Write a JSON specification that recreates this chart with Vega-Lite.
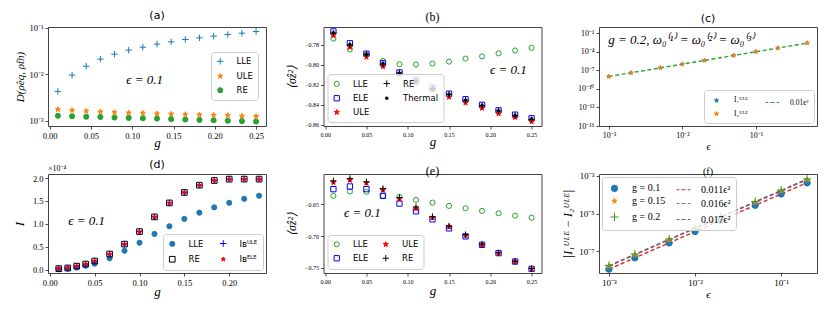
{
"$schema":"https://vega.github.io/schema/vega-lite/v6.json",
"background":"white",
"padding":{"left":12,"top":9,"right":2,"bottom":2},
"config":{
 "view":{"stroke":"#444","strokeWidth":1},
 "axis":{"grid":false,"domain":false,"tickColor":"#222","tickSize":3,"tickWidth":0.8,"tickCount":20,"labelColor":"#000","labelFont":"Liberation Serif","labelFontSize":8.5,"labelPadding":2,"titleFont":"Liberation Serif","titleFontStyle":"italic","titleFontWeight":"normal","titleColor":"#000","titleFontSize":13,"titlePadding":3,"labelFlush":false,"labelOverlap":false,"labelBound":false},
 "title":{"fontWeight":"normal","fontSize":11,"offset":3,"color":"#000","font":"DejaVu Sans","frame":"group"},
 "legend":{"fillColor":"rgba(255,255,255,0.8)","strokeColor":"#cccccc","cornerRadius":3,"padding":5,"symbolStrokeWidth":1,"symbolOpacity":1,"labelColor":"#000"}
},
"datasets":{
 "one":[{}],
 "a":[
  {"x":0.01,"y":0.00425,"s":"LLE"},{"x":0.02714,"y":0.00952,"s":"LLE"},{"x":0.04429,"y":0.0148,"s":"LLE"},{"x":0.06143,"y":0.021,"s":"LLE"},{"x":0.07857,"y":0.0268,"s":"LLE"},{"x":0.09571,"y":0.0327,"s":"LLE"},{"x":0.11286,"y":0.0379,"s":"LLE"},{"x":0.13,"y":0.044,"s":"LLE"},{"x":0.14714,"y":0.0493,"s":"LLE"},{"x":0.16429,"y":0.0553,"s":"LLE"},{"x":0.18143,"y":0.0601,"s":"LLE"},{"x":0.19857,"y":0.0652,"s":"LLE"},{"x":0.21571,"y":0.0708,"s":"LLE"},{"x":0.23286,"y":0.0756,"s":"LLE"},{"x":0.25,"y":0.0821,"s":"LLE"},
  {"x":0.01,"y":0.00175,"s":"ULE"},{"x":0.02714,"y":0.00167,"s":"ULE"},{"x":0.04429,"y":0.00161,"s":"ULE"},{"x":0.06143,"y":0.00156,"s":"ULE"},{"x":0.07857,"y":0.00151,"s":"ULE"},{"x":0.09571,"y":0.00148,"s":"ULE"},{"x":0.11286,"y":0.00146,"s":"ULE"},{"x":0.13,"y":0.00141,"s":"ULE"},{"x":0.14714,"y":0.00139,"s":"ULE"},{"x":0.16429,"y":0.00137,"s":"ULE"},{"x":0.18143,"y":0.00134,"s":"ULE"},{"x":0.19857,"y":0.00132,"s":"ULE"},{"x":0.21571,"y":0.0013,"s":"ULE"},{"x":0.23286,"y":0.00126,"s":"ULE"},{"x":0.25,"y":0.00124,"s":"ULE"},
  {"x":0.01,"y":0.00128,"s":"RE"},{"x":0.02714,"y":0.00125,"s":"RE"},{"x":0.04429,"y":0.00122,"s":"RE"},{"x":0.06143,"y":0.0012,"s":"RE"},{"x":0.07857,"y":0.00117,"s":"RE"},{"x":0.09571,"y":0.00115,"s":"RE"},{"x":0.11286,"y":0.00113,"s":"RE"},{"x":0.13,"y":0.00111,"s":"RE"},{"x":0.14714,"y":0.00108,"s":"RE"},{"x":0.16429,"y":0.00106,"s":"RE"},{"x":0.18143,"y":0.00104,"s":"RE"},{"x":0.19857,"y":0.00102,"s":"RE"},{"x":0.21571,"y":0.001,"s":"RE"},{"x":0.23286,"y":0.00098,"s":"RE"},{"x":0.25,"y":0.00096,"s":"RE"}
 ],
 "b":[
  {"x":0.01,"y":-0.7741,"s":"LLE"},{"x":0.03,"y":-0.7849,"s":"LLE"},{"x":0.05,"y":-0.7898,"s":"LLE"},{"x":0.07,"y":-0.7963,"s":"LLE"},{"x":0.09,"y":-0.7996,"s":"LLE"},{"x":0.11,"y":-0.7999,"s":"LLE"},{"x":0.13,"y":-0.7989,"s":"LLE"},{"x":0.15,"y":-0.797,"s":"LLE"},{"x":0.17,"y":-0.794,"s":"LLE"},{"x":0.19,"y":-0.7918,"s":"LLE"},{"x":0.21,"y":-0.7888,"s":"LLE"},{"x":0.23,"y":-0.7859,"s":"LLE"},{"x":0.25,"y":-0.7833,"s":"LLE"},
  {"x":0.01,"y":-0.7669,"s":"ELE"},{"x":0.03,"y":-0.7787,"s":"ELE"},{"x":0.05,"y":-0.7891,"s":"ELE"},{"x":0.07,"y":-0.7986,"s":"ELE"},{"x":0.09,"y":-0.8078,"s":"ELE"},{"x":0.11,"y":-0.8156,"s":"ELE"},{"x":0.13,"y":-0.8231,"s":"ELE"},{"x":0.15,"y":-0.829,"s":"ELE"},{"x":0.17,"y":-0.8345,"s":"ELE"},{"x":0.19,"y":-0.8401,"s":"ELE"},{"x":0.21,"y":-0.8456,"s":"ELE"},{"x":0.23,"y":-0.8499,"s":"ELE"},{"x":0.25,"y":-0.8535,"s":"ELE"},
  {"x":0.01,"y":-0.7709,"s":"ULE"},{"x":0.03,"y":-0.7826,"s":"ULE"},{"x":0.05,"y":-0.7924,"s":"ULE"},{"x":0.07,"y":-0.8019,"s":"ULE"},{"x":0.09,"y":-0.81,"s":"ULE"},{"x":0.11,"y":-0.8182,"s":"ULE"},{"x":0.13,"y":-0.8251,"s":"ULE"},{"x":0.15,"y":-0.8322,"s":"ULE"},{"x":0.17,"y":-0.8381,"s":"ULE"},{"x":0.19,"y":-0.8433,"s":"ULE"},{"x":0.21,"y":-0.8489,"s":"ULE"},{"x":0.23,"y":-0.8525,"s":"ULE"},{"x":0.25,"y":-0.8567,"s":"ULE"},
  {"x":0.01,"y":-0.7686,"s":"RE"},{"x":0.03,"y":-0.7803,"s":"RE"},{"x":0.05,"y":-0.7901,"s":"RE"},{"x":0.07,"y":-0.7996,"s":"RE"},{"x":0.09,"y":-0.8084,"s":"RE"},{"x":0.11,"y":-0.8162,"s":"RE"},{"x":0.13,"y":-0.8238,"s":"RE"},{"x":0.15,"y":-0.8296,"s":"RE"},{"x":0.17,"y":-0.8355,"s":"RE"},{"x":0.19,"y":-0.8411,"s":"RE"},{"x":0.21,"y":-0.8463,"s":"RE"},{"x":0.23,"y":-0.8509,"s":"RE"},{"x":0.25,"y":-0.8548,"s":"RE"},
  {"x":0.01,"y":-0.7682,"s":"Thermal"},{"x":0.03,"y":-0.78,"s":"Thermal"},{"x":0.05,"y":-0.7898,"s":"Thermal"},{"x":0.07,"y":-0.7993,"s":"Thermal"},{"x":0.09,"y":-0.8084,"s":"Thermal"},{"x":0.11,"y":-0.8162,"s":"Thermal"},{"x":0.13,"y":-0.8238,"s":"Thermal"},{"x":0.15,"y":-0.8296,"s":"Thermal"},{"x":0.17,"y":-0.8355,"s":"Thermal"},{"x":0.19,"y":-0.8407,"s":"Thermal"},{"x":0.21,"y":-0.846,"s":"Thermal"},{"x":0.23,"y":-0.8505,"s":"Thermal"},{"x":0.25,"y":-0.8541,"s":"Thermal"}
 ],
 "c":[
  {"x":0.001,"y":1e-8,"s":"I1"},{"x":0.002,"y":4e-8,"s":"I1"},{"x":0.005,"y":2.5e-7,"s":"I1"},{"x":0.01,"y":1e-6,"s":"I1"},{"x":0.02,"y":4e-6,"s":"I1"},{"x":0.05,"y":2.5e-5,"s":"I1"},{"x":0.1,"y":1e-4,"s":"I1"},{"x":0.2,"y":4e-4,"s":"I1"},{"x":0.5,"y":2.6e-3,"s":"I1"},
  {"x":0.001,"y":1e-8,"s":"I2"},{"x":0.002,"y":4e-8,"s":"I2"},{"x":0.005,"y":2.5e-7,"s":"I2"},{"x":0.01,"y":1e-6,"s":"I2"},{"x":0.02,"y":4e-6,"s":"I2"},{"x":0.05,"y":2.5e-5,"s":"I2"},{"x":0.1,"y":1e-4,"s":"I2"},{"x":0.2,"y":4e-4,"s":"I2"},{"x":0.5,"y":2.6e-3,"s":"I2"}
 ],
 "cl":[
  {"x":0.001,"y":1e-8,"s":"L"},{"x":0.002,"y":4e-8,"s":"L"},{"x":0.005,"y":2.5e-7,"s":"L"},{"x":0.01,"y":1e-6,"s":"L"},{"x":0.02,"y":4e-6,"s":"L"},{"x":0.05,"y":2.5e-5,"s":"L"},{"x":0.1,"y":1e-4,"s":"L"},{"x":0.2,"y":4e-4,"s":"L"},{"x":0.5,"y":2.5e-3,"s":"L"}
 ],
 "d":[
  {"x":0.01,"y":0.005,"s":"LLE"},{"x":0.02,"y":0.018,"s":"LLE"},{"x":0.03,"y":0.045,"s":"LLE"},{"x":0.04,"y":0.085,"s":"LLE"},{"x":0.05,"y":0.13,"s":"LLE"},{"x":0.0667,"y":0.246,"s":"LLE"},{"x":0.0833,"y":0.413,"s":"LLE"},{"x":0.1,"y":0.587,"s":"LLE"},{"x":0.1167,"y":0.78,"s":"LLE"},{"x":0.1333,"y":0.948,"s":"LLE"},{"x":0.15,"y":1.109,"s":"LLE"},{"x":0.1667,"y":1.245,"s":"LLE"},{"x":0.1833,"y":1.361,"s":"LLE"},{"x":0.2,"y":1.46,"s":"LLE"},{"x":0.2167,"y":1.548,"s":"LLE"},{"x":0.2333,"y":1.615,"s":"LLE"},
  {"x":0.01,"y":0.02,"s":"RE"},{"x":0.02,"y":0.035,"s":"RE"},{"x":0.03,"y":0.075,"s":"RE"},{"x":0.04,"y":0.12,"s":"RE"},{"x":0.05,"y":0.187,"s":"RE"},{"x":0.0667,"y":0.34,"s":"RE"},{"x":0.0833,"y":0.557,"s":"RE"},{"x":0.1,"y":0.83,"s":"RE"},{"x":0.1167,"y":1.152,"s":"RE"},{"x":0.1333,"y":1.457,"s":"RE"},{"x":0.15,"y":1.687,"s":"RE"},{"x":0.1667,"y":1.845,"s":"RE"},{"x":0.1833,"y":1.948,"s":"RE"},{"x":0.2,"y":1.978,"s":"RE"},{"x":0.2167,"y":1.978,"s":"RE"},{"x":0.2333,"y":1.978,"s":"RE"},
  {"x":0.01,"y":0.02,"s":"IBU"},{"x":0.02,"y":0.035,"s":"IBU"},{"x":0.03,"y":0.075,"s":"IBU"},{"x":0.04,"y":0.12,"s":"IBU"},{"x":0.05,"y":0.187,"s":"IBU"},{"x":0.0667,"y":0.34,"s":"IBU"},{"x":0.0833,"y":0.557,"s":"IBU"},{"x":0.1,"y":0.83,"s":"IBU"},{"x":0.1167,"y":1.152,"s":"IBU"},{"x":0.1333,"y":1.457,"s":"IBU"},{"x":0.15,"y":1.687,"s":"IBU"},{"x":0.1667,"y":1.845,"s":"IBU"},{"x":0.1833,"y":1.948,"s":"IBU"},{"x":0.2,"y":1.978,"s":"IBU"},{"x":0.2167,"y":1.978,"s":"IBU"},{"x":0.2333,"y":1.978,"s":"IBU"},
  {"x":0.01,"y":0.02,"s":"IBE"},{"x":0.02,"y":0.035,"s":"IBE"},{"x":0.03,"y":0.075,"s":"IBE"},{"x":0.04,"y":0.12,"s":"IBE"},{"x":0.05,"y":0.187,"s":"IBE"},{"x":0.0667,"y":0.34,"s":"IBE"},{"x":0.0833,"y":0.557,"s":"IBE"},{"x":0.1,"y":0.83,"s":"IBE"},{"x":0.1167,"y":1.152,"s":"IBE"},{"x":0.1333,"y":1.457,"s":"IBE"},{"x":0.15,"y":1.687,"s":"IBE"},{"x":0.1667,"y":1.845,"s":"IBE"},{"x":0.1833,"y":1.948,"s":"IBE"},{"x":0.2,"y":1.978,"s":"IBE"},{"x":0.2167,"y":1.978,"s":"IBE"},{"x":0.2333,"y":1.978,"s":"IBE"}
 ],
 "e":[
  {"x":0.01,"y":-0.6368,"s":"LLE"},{"x":0.03,"y":-0.63,"s":"LLE"},{"x":0.05,"y":-0.6305,"s":"LLE"},{"x":0.07,"y":-0.6368,"s":"LLE"},{"x":0.09,"y":-0.6384,"s":"LLE"},{"x":0.11,"y":-0.6432,"s":"LLE"},{"x":0.13,"y":-0.6474,"s":"LLE"},{"x":0.15,"y":-0.6526,"s":"LLE"},{"x":0.17,"y":-0.6563,"s":"LLE"},{"x":0.19,"y":-0.6605,"s":"LLE"},{"x":0.21,"y":-0.6642,"s":"LLE"},{"x":0.23,"y":-0.6679,"s":"LLE"},{"x":0.25,"y":-0.6711,"s":"LLE"},
  {"x":0.01,"y":-0.6263,"s":"ELE"},{"x":0.03,"y":-0.6221,"s":"ELE"},{"x":0.05,"y":-0.6263,"s":"ELE"},{"x":0.07,"y":-0.6368,"s":"ELE"},{"x":0.09,"y":-0.6489,"s":"ELE"},{"x":0.11,"y":-0.6611,"s":"ELE"},{"x":0.13,"y":-0.6737,"s":"ELE"},{"x":0.15,"y":-0.6879,"s":"ELE"},{"x":0.17,"y":-0.7005,"s":"ELE"},{"x":0.19,"y":-0.7137,"s":"ELE"},{"x":0.21,"y":-0.7268,"s":"ELE"},{"x":0.23,"y":-0.74,"s":"ELE"},{"x":0.25,"y":-0.7516,"s":"ELE"},
  {"x":0.01,"y":-0.6158,"s":"ULE"},{"x":0.03,"y":-0.6121,"s":"ULE"},{"x":0.05,"y":-0.6168,"s":"ULE"},{"x":0.07,"y":-0.6279,"s":"ULE"},{"x":0.09,"y":-0.6421,"s":"ULE"},{"x":0.11,"y":-0.6568,"s":"ULE"},{"x":0.13,"y":-0.6711,"s":"ULE"},{"x":0.15,"y":-0.6853,"s":"ULE"},{"x":0.17,"y":-0.6989,"s":"ULE"},{"x":0.19,"y":-0.7137,"s":"ULE"},{"x":0.21,"y":-0.7268,"s":"ULE"},{"x":0.23,"y":-0.74,"s":"ULE"},{"x":0.25,"y":-0.7516,"s":"ULE"},
  {"x":0.01,"y":-0.6132,"s":"RE"},{"x":0.03,"y":-0.6095,"s":"RE"},{"x":0.05,"y":-0.6147,"s":"RE"},{"x":0.07,"y":-0.6253,"s":"RE"},{"x":0.09,"y":-0.6395,"s":"RE"},{"x":0.11,"y":-0.6542,"s":"RE"},{"x":0.13,"y":-0.6695,"s":"RE"},{"x":0.15,"y":-0.6842,"s":"RE"},{"x":0.17,"y":-0.6979,"s":"RE"},{"x":0.19,"y":-0.7126,"s":"RE"},{"x":0.21,"y":-0.7263,"s":"RE"},{"x":0.23,"y":-0.7394,"s":"RE"},{"x":0.25,"y":-0.751,"s":"RE"}
 ],
 "f":[
  {"x":0.001,"y":1.1e-8,"s":"g = 0.1"},{"x":0.002,"y":4.4e-8,"s":"g = 0.1"},{"x":0.005,"y":2.75e-7,"s":"g = 0.1"},{"x":0.01,"y":1.1e-6,"s":"g = 0.1"},{"x":0.02,"y":4.4e-6,"s":"g = 0.1"},{"x":0.05,"y":2.75e-5,"s":"g = 0.1"},{"x":0.1,"y":1.1e-4,"s":"g = 0.1"},{"x":0.2,"y":4.3e-4,"s":"g = 0.1"},
  {"x":0.001,"y":1.6e-8,"s":"g = 0.15"},{"x":0.002,"y":6.4e-8,"s":"g = 0.15"},{"x":0.005,"y":4e-7,"s":"g = 0.15"},{"x":0.01,"y":1.6e-6,"s":"g = 0.15"},{"x":0.02,"y":6.4e-6,"s":"g = 0.15"},{"x":0.05,"y":4e-5,"s":"g = 0.15"},{"x":0.1,"y":1.6e-4,"s":"g = 0.15"},{"x":0.2,"y":6.3e-4,"s":"g = 0.15"},
  {"x":0.001,"y":1.75e-8,"s":"g = 0.2"},{"x":0.002,"y":7e-8,"s":"g = 0.2"},{"x":0.005,"y":4.4e-7,"s":"g = 0.2"},{"x":0.01,"y":1.75e-6,"s":"g = 0.2"},{"x":0.02,"y":7e-6,"s":"g = 0.2"},{"x":0.05,"y":4.4e-5,"s":"g = 0.2"},{"x":0.1,"y":1.75e-4,"s":"g = 0.2"},{"x":0.2,"y":6.9e-4,"s":"g = 0.2"}
 ],
 "fl":[
  {"x":0.001,"y":1.1e-8,"s":"0.011ϵ²"},{"x":0.2,"y":4.4e-4,"s":"0.011ϵ²"},
  {"x":0.001,"y":1.6e-8,"s":"0.016ϵ²"},{"x":0.2,"y":6.4e-4,"s":"0.016ϵ²"},
  {"x":0.001,"y":1.7e-8,"s":"0.017ϵ²"},{"x":0.2,"y":6.8e-4,"s":"0.017ϵ²"}
 ]
},
"vconcat":[
 {"hconcat":[
  {"width":218,"height":99,"title":{"text":"(a)"},
   "layer":[
    {"data":{"name":"a"},"mark":{"type":"point","opacity":1,"strokeWidth":1},
     "encoding":{
      "x":{"field":"x","type":"quantitative","scale":{"domain":[-0.002,0.262],"nice":false,"zero":false},"axis":{"values":[0,0.05,0.1,0.15,0.2,0.25],"format":".2f","title":"g","titlePadding":-3}},
      "y":{"field":"y","type":"quantitative","scale":{"type":"log","domain":[0.00077,0.1026],"nice":false},"axis":{"values":[0.001,0.01,0.1],"labelExpr":"'10' + replace(replace(replace(replace(replace(replace(replace(replace(replace(replace(toString(round(log(datum.value)/LN10)), '-', '⁻'), regexp('0','g'), '⁰'), regexp('1','g'), '¹'), regexp('2','g'), '²'), regexp('3','g'), '³'), regexp('4','g'), '⁴'), regexp('5','g'), '⁵'), regexp('6','g'), '⁶'), regexp('7','g'), '⁷'), regexp('9','g'), '⁹')","title":"D(ρ̂eq, ρ̂th)","titleFontSize":11}},
      "shape":{"field":"s","type":"nominal","scale":{"domain":["LLE","ULE","RE"],"range":["M-1,0H1M0,-1V1","M0,-1L0.2245,-0.309L0.951,-0.309L0.363,0.118L0.588,0.809L0,0.382L-0.588,0.809L-0.363,0.118L-0.951,-0.309L-0.2245,-0.309Z","circle"]},"legend":{"title":null,"orient":"none","legendX":163,"legendY":25,"labelFont":"DejaVu Sans","labelFontSize":8.5,"labelOffset":12,"rowPadding":4}},
      "stroke":{"field":"s","type":"nominal","scale":{"domain":["LLE","ULE","RE"],"range":["#1f77b4","#ff7f0e","#2ca02c"]},"legend":{"title":null,"orient":"none","legendX":163,"legendY":25,"labelFont":"DejaVu Sans","labelFontSize":8.5,"labelOffset":12,"rowPadding":4}},
      "fill":{"field":"s","type":"nominal","scale":{"domain":["LLE","ULE","RE"],"range":["transparent","#ff7f0e","#2ca02c"]},"legend":{"title":null,"orient":"none","legendX":163,"legendY":25,"labelFont":"DejaVu Sans","labelFontSize":8.5,"labelOffset":12,"rowPadding":4}},
      "size":{"field":"s","type":"nominal","scale":{"type":"ordinal","domain":["LLE","ULE","RE"],"range":[42,28,26]},"legend":{"title":null,"orient":"none","legendX":163,"legendY":25,"labelFont":"DejaVu Sans","labelFontSize":8.5,"labelOffset":12,"rowPadding":4}}
     }},
    {"data":{"name":"one"},"mark":{"type":"text","font":"Liberation Serif","fontSize":13,"fontStyle":"italic"},"encoding":{"x":{"datum":0.115},"y":{"datum":0.0075},"text":{"value":"ϵ = 0.1"}}}
   ]},
  {"width":218,"height":99,"title":{"text":"(b)","font":"Liberation Serif","fontSize":12},
   "layer":[
    {"data":{"name":"b"},"mark":{"type":"point","opacity":1,"strokeWidth":1},
     "encoding":{
      "x":{"field":"x","type":"quantitative","scale":{"domain":[-0.002,0.262],"nice":false,"zero":false},"axis":{"values":[0,0.05,0.1,0.15,0.2,0.25],"format":".2f","title":"g","labelFontSize":6,"titlePadding":-2}},
      "y":{"field":"y","type":"quantitative","scale":{"domain":[-0.8612,-0.7625],"nice":false,"zero":false},"axis":{"values":[-0.86,-0.84,-0.82,-0.8,-0.78],"format":".2f","title":"⟨σ̂z²⟩","titleFontSize":12,"labelFontSize":6,"titlePadding":6}},
      "shape":{"field":"s","type":"nominal","scale":{"domain":["LLE","ELE","ULE","RE","Thermal"],"range":["circle","square","M0,-1L0.2245,-0.309L0.951,-0.309L0.363,0.118L0.588,0.809L0,0.382L-0.588,0.809L-0.363,0.118L-0.951,-0.309L-0.2245,-0.309Z","M-1,0H1M0,-1V1","circle"]},"legend":{"title":null,"orient":"bottom-left","offset":4,"columns":2,"columnPadding":12,"labelFont":"DejaVu Sans","labelFontSize":8.5,"labelOffset":12,"rowPadding":4}},
      "stroke":{"field":"s","type":"nominal","scale":{"domain":["LLE","ELE","ULE","RE","Thermal"],"range":["#2ca02c","#0000ff","#ff0000","#000000","#000000"]},"legend":{"title":null,"orient":"bottom-left","offset":4,"columns":2,"columnPadding":12,"labelFont":"DejaVu Sans","labelFontSize":8.5,"labelOffset":12,"rowPadding":4}},
      "fill":{"field":"s","type":"nominal","scale":{"domain":["LLE","ELE","ULE","RE","Thermal"],"range":["transparent","transparent","#ff0000","transparent","#000000"]},"legend":{"title":null,"orient":"bottom-left","offset":4,"columns":2,"columnPadding":12,"labelFont":"DejaVu Sans","labelFontSize":8.5,"labelOffset":12,"rowPadding":4}},
      "size":{"field":"s","type":"nominal","scale":{"type":"ordinal","domain":["LLE","ELE","ULE","RE","Thermal"],"range":[26,28,30,40,7]},"legend":{"title":null,"orient":"bottom-left","offset":4,"columns":2,"columnPadding":12,"labelFont":"DejaVu Sans","labelFontSize":8.5,"labelOffset":12,"rowPadding":4}}
     }},
    {"data":{"name":"one"},"mark":{"type":"text","font":"Liberation Serif","fontSize":13,"fontStyle":"italic"},"encoding":{"x":{"datum":0.222},"y":{"datum":-0.8055},"text":{"value":"ϵ = 0.1"}}}
   ]},
  {"width":218,"height":99,"title":{"text":"(c)"},
   "layer":[
    {"data":{"name":"cl"},"mark":{"type":"line","strokeDash":[4,2.5],"strokeWidth":1.4},
     "encoding":{
      "x":{"field":"x","type":"quantitative","scale":{"type":"log","domain":[0.000733,0.68],"nice":false},"axis":{"values":[0.001,0.01,0.1],"labelExpr":"'10' + replace(replace(replace(replace(replace(replace(replace(replace(replace(replace(toString(round(log(datum.value)/LN10)), '-', '⁻'), regexp('0','g'), '⁰'), regexp('1','g'), '¹'), regexp('2','g'), '²'), regexp('3','g'), '³'), regexp('4','g'), '⁴'), regexp('5','g'), '⁵'), regexp('6','g'), '⁶'), regexp('7','g'), '⁷'), regexp('9','g'), '⁹')","title":"ϵ","titleFontSize":10,"labelFontSize":8,"titlePadding":2}},
      "y":{"field":"y","type":"quantitative","scale":{"type":"log","domain":[1e-16,1],"nice":false},"axis":{"values":[1e-16,1e-13,1e-10,1e-7,1e-4,0.1],"labelExpr":"'10' + replace(replace(replace(replace(replace(replace(replace(replace(replace(replace(toString(round(log(datum.value)/LN10)), '-', '⁻'), regexp('0','g'), '⁰'), regexp('1','g'), '¹'), regexp('2','g'), '²'), regexp('3','g'), '³'), regexp('4','g'), '⁴'), regexp('5','g'), '⁵'), regexp('6','g'), '⁶'), regexp('7','g'), '⁷'), regexp('9','g'), '⁹')","title":null,"labelFontSize":8}},
      "stroke":{"field":"s","type":"nominal","scale":{"domain":["I1","I2","L"],"range":["#1f77b4","#ff7f0e","#2ca02c"]},"legend":{"title":null,"orient":"bottom-right","offset":3,"columns":2,"columnPadding":14,"labelFont":"Liberation Serif","labelFontSize":7.5,"labelOffset":10,"rowPadding":3,"labelExpr":"datum.label == 'I1' ? 'I₁ᵁᴸᴱ' : datum.label == 'I2' ? 'I₂ᵁᴸᴱ' : '0.01ϵ²'"}}
     }},
    {"data":{"name":"c"},"mark":{"type":"point","opacity":1,"strokeWidth":0.6},
     "encoding":{
      "x":{"field":"x","type":"quantitative"},
      "y":{"field":"y","type":"quantitative"},
      "shape":{"field":"s","type":"nominal","scale":{"domain":["I1","I2","L"],"range":["M0,-1L0.2245,-0.309L0.951,-0.309L0.363,0.118L0.588,0.809L0,0.382L-0.588,0.809L-0.363,0.118L-0.951,-0.309L-0.2245,-0.309Z","M0,-1L0.2245,-0.309L0.951,-0.309L0.363,0.118L0.588,0.809L0,0.382L-0.588,0.809L-0.363,0.118L-0.951,-0.309L-0.2245,-0.309Z","M-1,0H-0.6M-0.3,0H0.3M0.6,0H1"]},"legend":{"title":null,"orient":"bottom-right","offset":3,"columns":2,"columnPadding":14,"labelFont":"Liberation Serif","labelFontSize":7.5,"labelOffset":10,"rowPadding":3,"labelExpr":"datum.label == 'I1' ? 'I₁ᵁᴸᴱ' : datum.label == 'I2' ? 'I₂ᵁᴸᴱ' : '0.01ϵ²'"}},
      "stroke":{"field":"s","type":"nominal"},
      "fill":{"field":"s","type":"nominal","scale":{"domain":["I1","I2","L"],"range":["#1f77b4","#ff7f0e","transparent"]},"legend":{"title":null,"orient":"bottom-right","offset":3,"columns":2,"columnPadding":14,"labelFont":"Liberation Serif","labelFontSize":7.5,"labelOffset":10,"rowPadding":3,"labelExpr":"datum.label == 'I1' ? 'I₁ᵁᴸᴱ' : datum.label == 'I2' ? 'I₂ᵁᴸᴱ' : '0.01ϵ²'"}},
      "size":{"field":"s","type":"nominal","scale":{"type":"ordinal","domain":["I1","I2","L"],"range":[20,20,196]},"legend":{"title":null,"orient":"bottom-right","offset":3,"columns":2,"columnPadding":14,"labelFont":"Liberation Serif","labelFontSize":7.5,"labelOffset":10,"rowPadding":3,"labelExpr":"datum.label == 'I1' ? 'I₁ᵁᴸᴱ' : datum.label == 'I2' ? 'I₂ᵁᴸᴱ' : '0.01ϵ²'"}}
     }},
    {"data":{"name":"one"},"mark":{"type":"text","font":"Liberation Serif","fontSize":13,"fontStyle":"italic","align":"left"},"encoding":{"x":{"datum":0.00098},"y":{"datum":0.008},"text":{"value":"g = 0.2, ω₀⁽¹⁾ = ω₀⁽²⁾ = ω₀⁽³⁾"}}}
   ]}
 ],"spacing":57.5,"bounds":"flush","resolve":{"scale":{"x":"independent","y":"independent","shape":"independent","stroke":"independent","fill":"independent","size":"independent"},"legend":{"shape":"independent","stroke":"independent","fill":"independent","size":"independent"}}},
 {"hconcat":[
  {"width":218,"height":99,"title":{"text":"(d)","offset":-5},
   "layer":[
    {"data":{"name":"d"},"mark":{"type":"point","opacity":1,"strokeWidth":1},
     "encoding":{
      "x":{"field":"x","type":"quantitative","scale":{"domain":[-0.002,0.241],"nice":false,"zero":false},"axis":{"values":[0,0.05,0.1,0.15,0.2],"format":".2f","title":"g","titlePadding":-1}},
      "y":{"field":"y","type":"quantitative","scale":{"domain":[-0.075,2.09],"nice":false,"zero":false},"axis":{"values":[0,0.5,1,1.5,2],"format":".1f","title":"I","titleFontSize":13,"titlePadding":6}},
      "shape":{"field":"s","type":"nominal","scale":{"domain":["LLE","RE","IBU","IBE"],"range":["circle","square","M-1,0H1M0,-1V1","M0,-1L0.2245,-0.309L0.951,-0.309L0.363,0.118L0.588,0.809L0,0.382L-0.588,0.809L-0.363,0.118L-0.951,-0.309L-0.2245,-0.309Z"]},"legend":{"title":null,"orient":"bottom-right","offset":3,"columns":2,"columnPadding":14,"labelFont":"DejaVu Sans","labelFontSize":8.5,"labelOffset":12,"rowPadding":5,"labelExpr":"datum.label == 'IBU' ? 'Iʙᵁᴸᴱ' : datum.label == 'IBE' ? 'Iʙᴱᴸᴱ' : datum.label"}},
      "stroke":{"field":"s","type":"nominal","scale":{"domain":["LLE","RE","IBU","IBE"],"range":["#1f77b4","#000000","#0000ff","#ff0000"]},"legend":{"title":null,"orient":"bottom-right","offset":3,"columns":2,"columnPadding":14,"labelFont":"DejaVu Sans","labelFontSize":8.5,"labelOffset":12,"rowPadding":5,"labelExpr":"datum.label == 'IBU' ? 'Iʙᵁᴸᴱ' : datum.label == 'IBE' ? 'Iʙᴱᴸᴱ' : datum.label"}},
      "fill":{"field":"s","type":"nominal","scale":{"domain":["LLE","RE","IBU","IBE"],"range":["#1f77b4","transparent","transparent","#ff0000"]},"legend":{"title":null,"orient":"bottom-right","offset":3,"columns":2,"columnPadding":14,"labelFont":"DejaVu Sans","labelFontSize":8.5,"labelOffset":12,"rowPadding":5,"labelExpr":"datum.label == 'IBU' ? 'Iʙᵁᴸᴱ' : datum.label == 'IBE' ? 'Iʙᴱᴸᴱ' : datum.label"}},
      "size":{"field":"s","type":"nominal","scale":{"type":"ordinal","domain":["LLE","RE","IBU","IBE"],"range":[26,32,42,20]},"legend":{"title":null,"orient":"bottom-right","offset":3,"columns":2,"columnPadding":14,"labelFont":"DejaVu Sans","labelFontSize":8.5,"labelOffset":12,"rowPadding":5,"labelExpr":"datum.label == 'IBU' ? 'Iʙᵁᴸᴱ' : datum.label == 'IBE' ? 'Iʙᴱᴸᴱ' : datum.label"}}
     }},
    {"data":{"name":"one"},"mark":{"type":"text","font":"Liberation Serif","fontSize":13,"fontStyle":"italic"},"encoding":{"x":{"datum":0.041},"y":{"datum":1.07},"text":{"value":"ϵ = 0.1"}}},
    {"data":{"name":"one"},"mark":{"type":"text","font":"Liberation Serif","fontSize":8,"align":"left","baseline":"bottom","dy":-1},"encoding":{"x":{"datum":-0.002},"y":{"datum":2.09},"text":{"value":"×10⁻⁴"}}}
   ]},
  {"width":218,"height":99,"title":{"text":"(e)","font":"Liberation Serif","fontSize":12,"offset":-5},
   "layer":[
    {"data":{"name":"e"},"mark":{"type":"point","opacity":1,"strokeWidth":1},
     "encoding":{
      "x":{"field":"x","type":"quantitative","scale":{"domain":[-0.002,0.262],"nice":false,"zero":false},"axis":{"values":[0,0.05,0.1,0.15,0.2,0.25],"format":".2f","title":"g","labelFontSize":6,"titlePadding":0}},
      "y":{"field":"y","type":"quantitative","scale":{"domain":[-0.758,-0.6025],"nice":false,"zero":false},"axis":{"values":[-0.75,-0.7,-0.65],"format":".2f","title":"⟨σ̂z²⟩","titleFontSize":12,"labelFontSize":6,"titlePadding":6}},
      "shape":{"field":"s","type":"nominal","scale":{"domain":["LLE","ELE","ULE","RE"],"range":["circle","square","M0,-1L0.2245,-0.309L0.951,-0.309L0.363,0.118L0.588,0.809L0,0.382L-0.588,0.809L-0.363,0.118L-0.951,-0.309L-0.2245,-0.309Z","M-1,0H1M0,-1V1"]},"legend":{"title":null,"orient":"bottom-left","offset":4,"columns":2,"columnPadding":12,"labelFont":"DejaVu Sans","labelFontSize":8.5,"labelOffset":12,"rowPadding":4}},
      "stroke":{"field":"s","type":"nominal","scale":{"domain":["LLE","ELE","ULE","RE"],"range":["#2ca02c","#0000ff","#ff0000","#000000"]},"legend":{"title":null,"orient":"bottom-left","offset":4,"columns":2,"columnPadding":12,"labelFont":"DejaVu Sans","labelFontSize":8.5,"labelOffset":12,"rowPadding":4}},
      "fill":{"field":"s","type":"nominal","scale":{"domain":["LLE","ELE","ULE","RE"],"range":["transparent","transparent","#ff0000","transparent"]},"legend":{"title":null,"orient":"bottom-left","offset":4,"columns":2,"columnPadding":12,"labelFont":"DejaVu Sans","labelFontSize":8.5,"labelOffset":12,"rowPadding":4}},
      "size":{"field":"s","type":"nominal","scale":{"type":"ordinal","domain":["LLE","ELE","ULE","RE"],"range":[26,28,30,40]},"legend":{"title":null,"orient":"bottom-left","offset":4,"columns":2,"columnPadding":12,"labelFont":"DejaVu Sans","labelFontSize":8.5,"labelOffset":12,"rowPadding":4}}
     }},
    {"data":{"name":"one"},"mark":{"type":"text","font":"Liberation Serif","fontSize":13,"fontStyle":"italic"},"encoding":{"x":{"datum":0.045},"y":{"datum":-0.663},"text":{"value":"ϵ = 0.1"}}}
   ]},
  {"width":218,"height":99,"title":{"text":"(f)","font":"Liberation Serif","fontSize":10,"offset":-5},
   "layer":[
    {"data":{"name":"fl"},"mark":{"type":"line","strokeDash":[4,2.5],"strokeWidth":1.4},
     "encoding":{
      "x":{"field":"x","type":"quantitative","scale":{"type":"log","domain":[0.000767,0.2606],"nice":false},"axis":{"values":[0.001,0.01,0.1],"labelExpr":"'10' + replace(replace(replace(replace(replace(replace(replace(replace(replace(replace(toString(round(log(datum.value)/LN10)), '-', '⁻'), regexp('0','g'), '⁰'), regexp('1','g'), '¹'), regexp('2','g'), '²'), regexp('3','g'), '³'), regexp('4','g'), '⁴'), regexp('5','g'), '⁵'), regexp('6','g'), '⁶'), regexp('7','g'), '⁷'), regexp('9','g'), '⁹')","title":"ϵ","titleFontSize":11,"labelFontSize":9,"titlePadding":1}},
      "y":{"field":"y","type":"quantitative","scale":{"type":"log","domain":[6.9e-9,1.27e-3],"nice":false},"axis":{"values":[1e-7,1e-5,1e-3],"labelExpr":"'10' + replace(replace(replace(replace(replace(replace(replace(replace(replace(replace(toString(round(log(datum.value)/LN10)), '-', '⁻'), regexp('0','g'), '⁰'), regexp('1','g'), '¹'), regexp('2','g'), '²'), regexp('3','g'), '³'), regexp('4','g'), '⁴'), regexp('5','g'), '⁵'), regexp('6','g'), '⁶'), regexp('7','g'), '⁷'), regexp('9','g'), '⁹')","title":"|I₁ᵁᴸᴱ − I₂ᵁᴸᴱ|","titleFontSize":12,"labelFontSize":9,"titlePadding":4}},
      "stroke":{"field":"s","type":"nominal","scale":{"domain":["g = 0.1","g = 0.15","g = 0.2","0.011ϵ²","0.016ϵ²","0.017ϵ²"],"range":["#1f77b4","#ff7f0e","#2ca02c","#d62728","#9467bd","#8c564b"]},"legend":{"title":null,"orient":"top-left","offset":3,"columns":2,"columnPadding":8,"labelFont":"Liberation Serif","labelFontSize":10,"labelOffset":10,"rowPadding":1}}
     }},
    {"data":{"name":"f"},"mark":{"type":"point","opacity":1,"strokeWidth":1},
     "encoding":{
      "x":{"field":"x","type":"quantitative"},
      "y":{"field":"y","type":"quantitative"},
      "shape":{"field":"s","type":"nominal","scale":{"domain":["g = 0.1","g = 0.15","g = 0.2","0.011ϵ²","0.016ϵ²","0.017ϵ²"],"range":["circle","M0,-1L0.2245,-0.309L0.951,-0.309L0.363,0.118L0.588,0.809L0,0.382L-0.588,0.809L-0.363,0.118L-0.951,-0.309L-0.2245,-0.309Z","M-1,0H1M0,-1V1","M-1,0H-0.6M-0.3,0H0.3M0.6,0H1","M-1,0H-0.6M-0.3,0H0.3M0.6,0H1","M-1,0H-0.6M-0.3,0H0.3M0.6,0H1"]},"legend":{"title":null,"orient":"top-left","offset":3,"columns":2,"columnPadding":8,"labelFont":"Liberation Serif","labelFontSize":10,"labelOffset":10,"rowPadding":1}},
      "stroke":{"field":"s","type":"nominal"},
      "fill":{"field":"s","type":"nominal","scale":{"domain":["g = 0.1","g = 0.15","g = 0.2","0.011ϵ²","0.016ϵ²","0.017ϵ²"],"range":["#1f77b4","#ff7f0e","transparent","transparent","transparent","transparent"]},"legend":{"title":null,"orient":"top-left","offset":3,"columns":2,"columnPadding":8,"labelFont":"Liberation Serif","labelFontSize":10,"labelOffset":10,"rowPadding":1}},
      "size":{"field":"s","type":"nominal","scale":{"type":"ordinal","domain":["g = 0.1","g = 0.15","g = 0.2","0.011ϵ²","0.016ϵ²","0.017ϵ²"],"range":[40,30,70,196,196,196]},"legend":{"title":null,"orient":"top-left","offset":3,"columns":2,"columnPadding":8,"labelFont":"Liberation Serif","labelFontSize":10,"labelOffset":10,"rowPadding":1}}
     }}
   ]}
 ],"spacing":57.5,"bounds":"flush","resolve":{"scale":{"x":"independent","y":"independent","shape":"independent","stroke":"independent","fill":"independent","size":"independent"},"legend":{"shape":"independent","stroke":"independent","fill":"independent","size":"independent"}}}
],
"spacing":6,
"resolve":{"scale":{"x":"independent","y":"independent","shape":"independent","stroke":"independent","fill":"independent","size":"independent"},"legend":{"shape":"independent","stroke":"independent","fill":"independent","size":"independent"}}
}
